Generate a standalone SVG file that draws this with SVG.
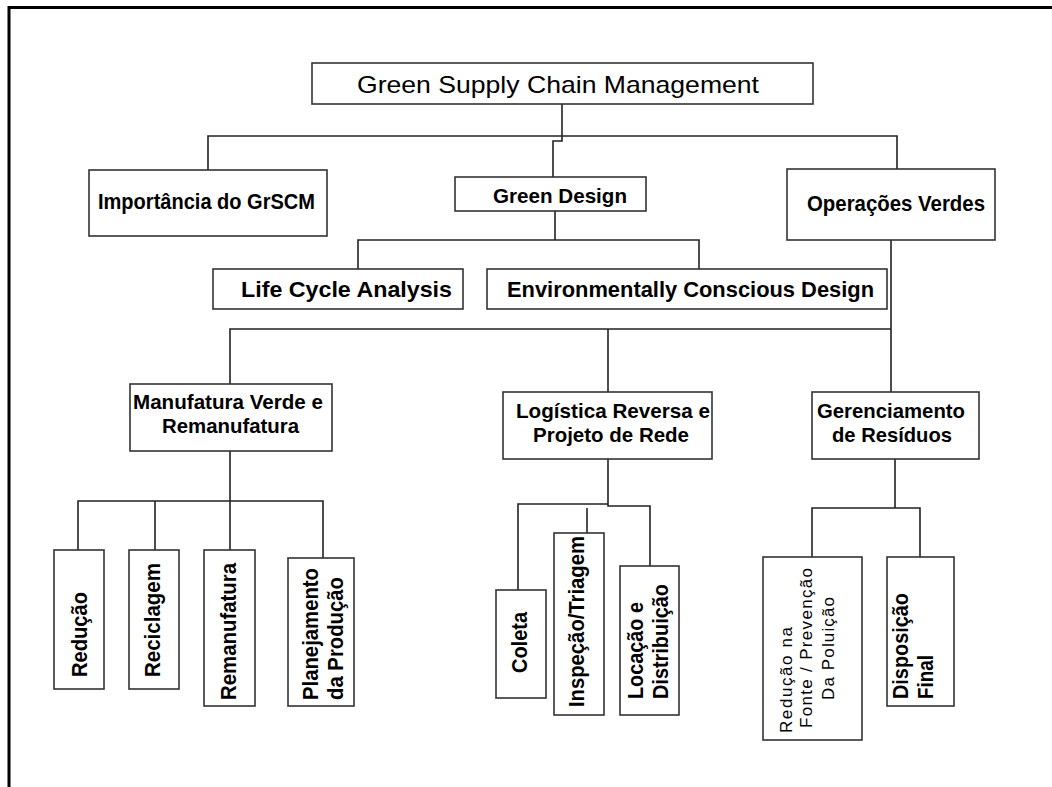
<svg xmlns="http://www.w3.org/2000/svg" width="1052" height="787" viewBox="0 0 1052 787">
<style>
.box{fill:#fff;stroke:#333;stroke-width:1.6}
.ln{fill:none;stroke:#222;stroke-width:1.6}
.t{font-family:"Liberation Sans",Arial,Helvetica,sans-serif;font-size:20px;font-weight:bold;fill:#000}
.v{font-family:"Liberation Sans",Arial,Helvetica,sans-serif;font-size:22px;font-weight:bold;fill:#000}
.r{font-family:"Liberation Sans",Arial,Helvetica,sans-serif;font-size:17px;font-weight:normal;fill:#000}
</style>
<rect width="1052" height="787" fill="#fff"/>
<path d="M9,787 V7.5 H1052" fill="none" stroke="#000" stroke-width="3"/>
<g id="connectors">
<path class="ln" d="M562,104 V136 M208,170 V136 H897 V169 M562,136 V141 H553 V177"/>
<path class="ln" d="M555,211 V240 M358,269 V240 H699 V269"/>
<path class="ln" d="M891,240 V392 M230,384 V329 H891 M608,329 V392"/>
<path class="ln" d="M230,451 V550 M78,550 V501 H323 V558 M155,501 V550"/>
<path class="ln" d="M608,459 V504 H518 V590 M608,504 V506 H650 V566 M587,508 V533"/>
<path class="ln" d="M895,459 V508 M812,557 V508 H920 V557"/>
</g>
<g id="gscm"><rect class="box" x="312" y="63" width="501" height="41"/>
<text class="t" style="font-weight:normal;font-size:24px" x="357" y="93" textLength="402" lengthAdjust="spacingAndGlyphs">Green Supply Chain Management</text></g>
<g id="importancia"><rect class="box" x="89" y="170" width="238" height="66"/>
<text class="t" style="font-size:22px" x="98" y="209" textLength="217" lengthAdjust="spacingAndGlyphs">Importância do GrSCM</text></g>
<g id="greendesign"><rect class="box" x="455" y="177" width="191" height="34"/>
<text class="t" style="font-size:21px" x="493" y="203" textLength="134" lengthAdjust="spacingAndGlyphs">Green Design</text></g>
<g id="operacoes"><rect class="box" x="787" y="169" width="208" height="71"/>
<text class="t" style="font-size:22px" x="807" y="211" textLength="178" lengthAdjust="spacingAndGlyphs">Operações Verdes</text></g>
<g id="lca"><rect class="box" x="213" y="269" width="250" height="40"/>
<text class="t" style="font-size:22px" x="241" y="297" textLength="211" lengthAdjust="spacingAndGlyphs">Life Cycle Analysis</text></g>
<g id="ecd"><rect class="box" x="487" y="269" width="400" height="40"/>
<text class="t" style="font-size:22px" x="507" y="297" textLength="367" lengthAdjust="spacingAndGlyphs">Environmentally Conscious Design</text></g>
<g id="manufatura"><rect class="box" x="130" y="384" width="202" height="67"/>
<text class="t" x="133" y="409" textLength="190" lengthAdjust="spacingAndGlyphs">Manufatura Verde e</text>
<text class="t" x="162" y="433" textLength="137" lengthAdjust="spacingAndGlyphs">Remanufatura</text></g>
<g id="logistica"><rect class="box" x="503" y="392" width="209" height="67"/>
<text class="t" style="font-size:21px" x="516" y="418" textLength="194" lengthAdjust="spacingAndGlyphs">Logística Reversa e</text>
<text class="t" style="font-size:21px" x="533" y="442" textLength="156" lengthAdjust="spacingAndGlyphs">Projeto de Rede</text></g>
<g id="gerenciamento"><rect class="box" x="812" y="392" width="167" height="67"/>
<text class="t" style="font-size:21px" x="817" y="418" textLength="148" lengthAdjust="spacingAndGlyphs">Gerenciamento</text>
<text class="t" style="font-size:21px" x="832" y="442" textLength="120" lengthAdjust="spacingAndGlyphs">de Resíduos</text></g>
<g id="reducao"><rect class="box" x="54" y="550" width="50" height="139"/>
<text class="v" transform="translate(87,677) rotate(-90)" textLength="85" lengthAdjust="spacingAndGlyphs">Redução</text></g>
<g id="reciclagem"><rect class="box" x="129" y="550" width="50" height="139"/>
<text class="v" transform="translate(160,677) rotate(-90)" textLength="114" lengthAdjust="spacingAndGlyphs">Reciclagem</text></g>
<g id="remanufatura"><rect class="box" x="204" y="550" width="51" height="156"/>
<text class="v" transform="translate(236,700) rotate(-90)" textLength="137" lengthAdjust="spacingAndGlyphs">Remanufatura</text></g>
<g id="planejamento"><rect class="box" x="288" y="558" width="66" height="148"/>
<text class="v" transform="translate(318,700) rotate(-90)" textLength="132" lengthAdjust="spacingAndGlyphs">Planejamento</text>
<text class="v" transform="translate(343,700) rotate(-90)" textLength="123" lengthAdjust="spacingAndGlyphs">da Produção</text></g>
<g id="coleta"><rect class="box" x="496" y="590" width="50" height="108"/>
<text class="v" transform="translate(527,673) rotate(-90)" textLength="61" lengthAdjust="spacingAndGlyphs">Coleta</text></g>
<g id="inspecao"><rect class="box" x="554" y="533" width="50" height="182"/>
<text class="v" transform="translate(584,707) rotate(-90)" textLength="171" lengthAdjust="spacingAndGlyphs">Inspeção/Triagem</text></g>
<g id="locacao"><rect class="box" x="620" y="566" width="59" height="149"/>
<text class="v" transform="translate(643,699) rotate(-90)" textLength="97" lengthAdjust="spacingAndGlyphs">Locação e</text>
<text class="v" transform="translate(668,699) rotate(-90)" textLength="115" lengthAdjust="spacingAndGlyphs">Distribuição</text></g>
<g id="reducaofonte"><rect class="box" x="763" y="557" width="99" height="183"/>
<text class="r" transform="translate(792,733) rotate(-90)" textLength="106" lengthAdjust="spacing">Redução na</text>
<text class="r" transform="translate(812,728) rotate(-90)" textLength="160" lengthAdjust="spacing">Fonte / Prevenção</text>
<text class="r" transform="translate(834,700) rotate(-90)" textLength="103" lengthAdjust="spacing">Da Poluição</text></g>
<g id="disposicao"><rect class="box" x="887" y="557" width="67" height="149"/>
<text class="v" transform="translate(908,699) rotate(-90)" textLength="106" lengthAdjust="spacingAndGlyphs">Disposição</text>
<text class="v" transform="translate(933,699) rotate(-90)" textLength="44" lengthAdjust="spacingAndGlyphs">Final</text></g>
</svg>
